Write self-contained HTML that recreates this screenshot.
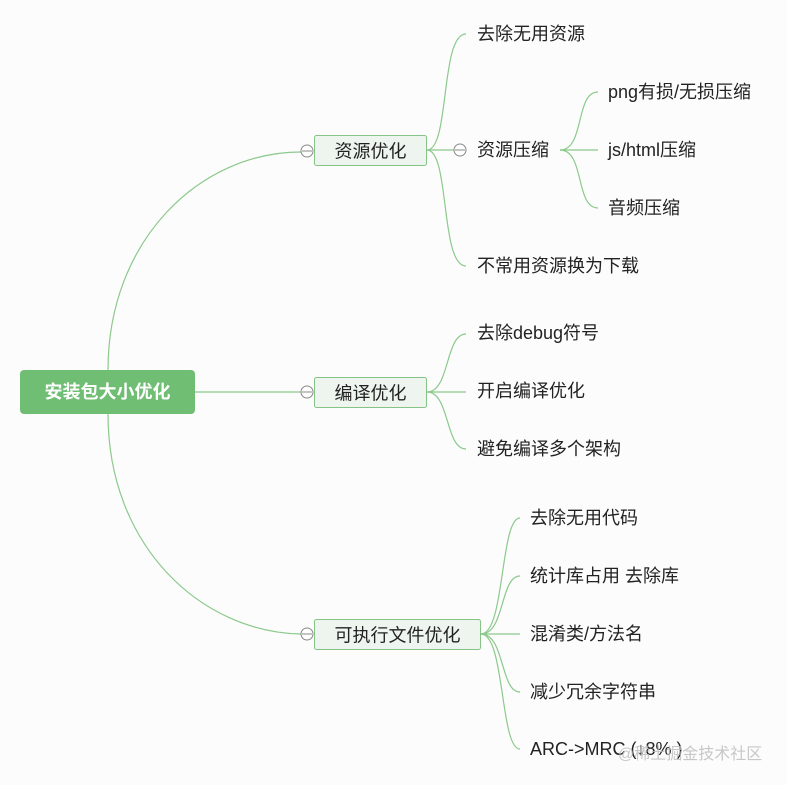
<!DOCTYPE html>
<html><head><meta charset="utf-8"><style>
html,body{margin:0;padding:0;background:#fcfcfc;}
svg{display:block;}
text{font-family:"Liberation Sans","Noto Sans CJK SC",sans-serif;fill:#222;font-size:18px;}
</style></head><body>
<svg width="787" height="785" viewBox="0 0 787 785" xmlns="http://www.w3.org/2000/svg">
<g fill="none" stroke="#8cc98c" stroke-width="1.2">
<path d="M108,370 C108,240 200,152 301,152"/>
<path d="M195,392 L301,392"/>
<path d="M108,414 C108,545 200,632 301,634"/>
<path d="M427,150 C450,150 440,34 466,34"/>
<path d="M427,150 L454,150"/>
<path d="M427,150 C450,150 440,266 466,266"/>
<path d="M560,150 C585,150 575,92 598,92"/>
<path d="M560,150 L598,150"/>
<path d="M560,150 C585,150 575,208 598,208"/>
<path d="M427,392 C450,392 445,334 466,334"/>
<path d="M427,392 L466,392"/>
<path d="M427,392 C450,392 445,449 466,449"/>
<path d="M481,634 C505,634 500,518 520,518"/>
<path d="M481,634 C505,634 500,576 520,576"/>
<path d="M481,634 L520,634"/>
<path d="M481,634 C505,634 500,692 520,692"/>
<path d="M481,634 C505,634 500,749 520,749"/>
</g>
<rect x="20" y="370" width="175" height="44" rx="4" fill="#6fbe73"/>
<text x="107.5" y="398" text-anchor="middle" style="fill:#fff;font-weight:bold;font-size:18px">安装包大小优化</text>
<g fill="#eef5ee" stroke="#86c386" stroke-width="1">
<rect x="314.5" y="135.5" width="112" height="30" rx="2"/>
<rect x="314.5" y="377.5" width="112" height="30" rx="2"/>
<rect x="314.5" y="619.5" width="166" height="30" rx="2"/>
</g>
<text x="370.5" y="157.5" text-anchor="middle">资源优化</text>
<text x="370.5" y="399.5" text-anchor="middle">编译优化</text>
<text x="397.5" y="641.5" text-anchor="middle">可执行文件优化</text>
<g fill="#fff" stroke="#888" stroke-width="1">
<circle cx="307" cy="151" r="6"/><line x1="302" y1="151" x2="312" y2="151"/>
<circle cx="307" cy="392" r="6"/><line x1="302" y1="392" x2="312" y2="392"/>
<circle cx="307" cy="634" r="6"/><line x1="302" y1="634" x2="312" y2="634"/>
<circle cx="460" cy="150" r="6"/><line x1="455" y1="150" x2="465" y2="150"/>
</g>
<text x="477" y="40">去除无用资源</text>
<text x="477" y="156">资源压缩</text>
<text x="477" y="272">不常用资源换为下载</text>
<text x="608" y="98">png有损/无损压缩</text>
<text x="608" y="156">js/html压缩</text>
<text x="608" y="214">音频压缩</text>
<text x="477" y="339">去除debug符号</text>
<text x="477" y="397">开启编译优化</text>
<text x="477" y="455">避免编译多个架构</text>
<text x="530" y="524">去除无用代码</text>
<text x="530" y="582">统计库占用 去除库</text>
<text x="530" y="640">混淆类/方法名</text>
<text x="530" y="698">减少冗余字符串</text>
<text x="530" y="755">ARC-&gt;MRC (↓8% )</text>
<text x="618" y="759" style="fill:#bbb;font-size:16px;opacity:0.8">@稀土掘金技术社区</text>
</svg>
</body></html>
